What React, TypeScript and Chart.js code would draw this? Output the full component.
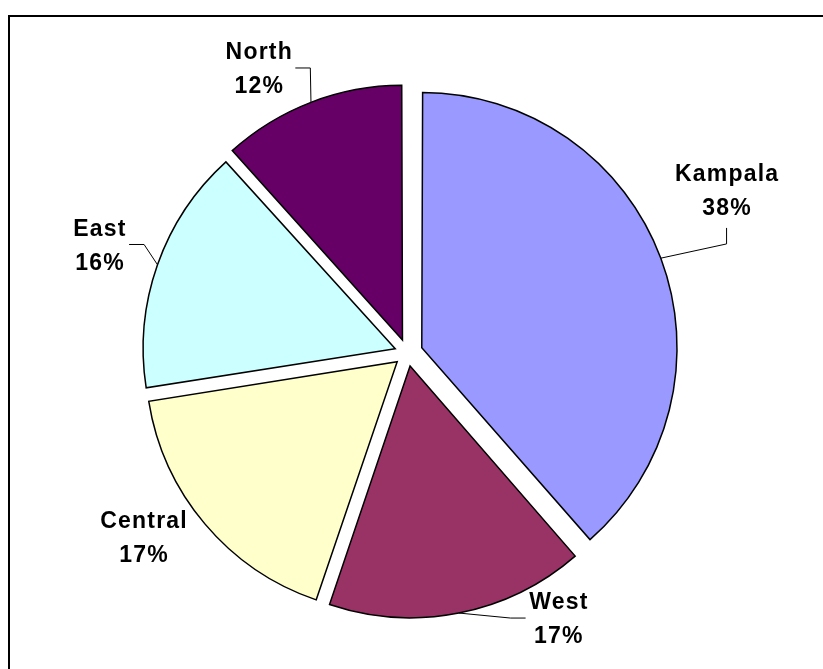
import React, { useEffect, useRef } from "react";
import { Chart, PieController, ArcElement } from "chart.js";

Chart.register(PieController, ArcElement);

// ---- data (slice sizes; label texts as printed) ----
const categories = ["Kampala", "West", "Central", "East", "North"];
const shares = [38.6, 16.6, 17.3, 15.8, 11.7];
const percentLabels = ["38%", "17%", "17%", "16%", "12%"];
const sliceColors = ["#9999FF", "#993366", "#FFFFCC", "#CCFFFF", "#660066"];

// ---- layout (styles / positions, not data) ----
const EXPLODE = [61, 53, 54, 52, 56]; // chart.js offset (translation = offset / 4)
const LABEL_NUDGE: [number, number][] = [
  [25, -53],
  [90, -43],
  [-24, -19],
  [-12, -4],
  [-36, 8],
];
const SHOW_LEADER = [true, true, false, true, true];
const LABEL_FONT = 'bold 23px "Liberation Sans", Arial, sans-serif';

const labelPlugin = {
  id: "sliceLabels",
  afterDatasetsDraw(chart: any) {
    const ctx: CanvasRenderingContext2D = chart.ctx;
    const meta = chart.getDatasetMeta(0);
    ctx.save();
    ctx.font = LABEL_FONT;
    (ctx as any).letterSpacing = "1.2px";
    ctx.textAlign = "center";
    ctx.textBaseline = "alphabetic";
    meta.data.forEach((arc: any, i: number) => {
      const p = arc.getProps(
        ["x", "y", "startAngle", "endAngle", "outerRadius", "circumference"],
        true
      );
      const mid = (p.startAngle + p.endAngle) / 2;
      const cos = Math.cos(mid);
      const sin = Math.sin(mid);
      const off = EXPLODE[i] / 4;
      const fix = 1 - Math.sin(Math.min(Math.PI, p.circumference));
      const r = p.outerRadius + off * fix;
      const ax = p.x + cos * (off + r);
      const ay = p.y + sin * (off + r);

      const D = p.outerRadius + 64;
      const cx = p.x + cos * D + LABEL_NUDGE[i][0];
      const cy = p.y + sin * D + LABEL_NUDGE[i][1];
      const l1 = categories[i];
      const l2 = percentLabels[i];
      const w = Math.max(ctx.measureText(l1).width, ctx.measureText(l2).width);
      const hw = w / 2;
      const hh = 25;

      ctx.fillStyle = "#000";
      ctx.fillText(l1, cx + 0.6, cy - 8.75);
      ctx.fillText(l2, cx + 0.6, cy + 25.25);

      if (SHOW_LEADER[i]) {
        const dx = ax - cx;
        const dy = ay - cy;
        let p1: [number, number];
        let p2: [number, number];
        if (Math.abs(dx) / hw > Math.abs(dy) / hh) {
          const sx = Math.sign(dx);
          p1 = [cx + sx * (hw + 3), cy];
          p2 = [p1[0] + sx * 15, cy];
        } else {
          const sy = Math.sign(dy);
          p1 = [cx, cy + sy * (hh + 13)];
          p2 = [cx, p1[1] + sy * 16];
        }
        ctx.beginPath();
        ctx.strokeStyle = "#000";
        ctx.lineWidth = 1;
        ctx.moveTo(p1[0], p1[1]);
        ctx.lineTo(p2[0], p2[1]);
        ctx.lineTo(ax, ay);
        ctx.stroke();
      }
    });
    ctx.restore();
  },
};

export default function App() {
  const canvasRef = useRef<HTMLCanvasElement | null>(null);

  useEffect(() => {
    if (!canvasRef.current) return;
    const chart = new Chart(canvasRef.current, {
      type: "pie",
      data: {
        labels: categories,
        datasets: [
          {
            data: shares,
            backgroundColor: sliceColors,
            borderColor: "#000000",
            borderWidth: 1.5,
            borderJoinStyle: "miter",
            offset: EXPLODE,
            hoverOffset: 0,
            radius: 250,
          } as any,
        ],
      },
      options: {
        responsive: false,
        animation: false,
        events: [],
        layout: { padding: { left: 0, right: 8, top: 37, bottom: 0 } },
        plugins: { legend: { display: false }, tooltip: { enabled: false } } as any,
      },
      plugins: [labelPlugin],
    });
    return () => chart.destroy();
  }, []);

  return (
    <div
      style={{
        position: "fixed",
        left: 0,
        top: 0,
        width: 823,
        height: 669,
        overflow: "hidden",
        background: "#ffffff",
      }}
    >
      <div
        style={{
          position: "absolute",
          left: 8,
          top: 15,
          width: 900,
          height: 800,
          border: "2px solid #000",
        }}
      />
      <canvas
        ref={canvasRef}
        width={823}
        height={669}
        style={{ position: "absolute", left: 0, top: 0 }}
      />
    </div>
  );
}
